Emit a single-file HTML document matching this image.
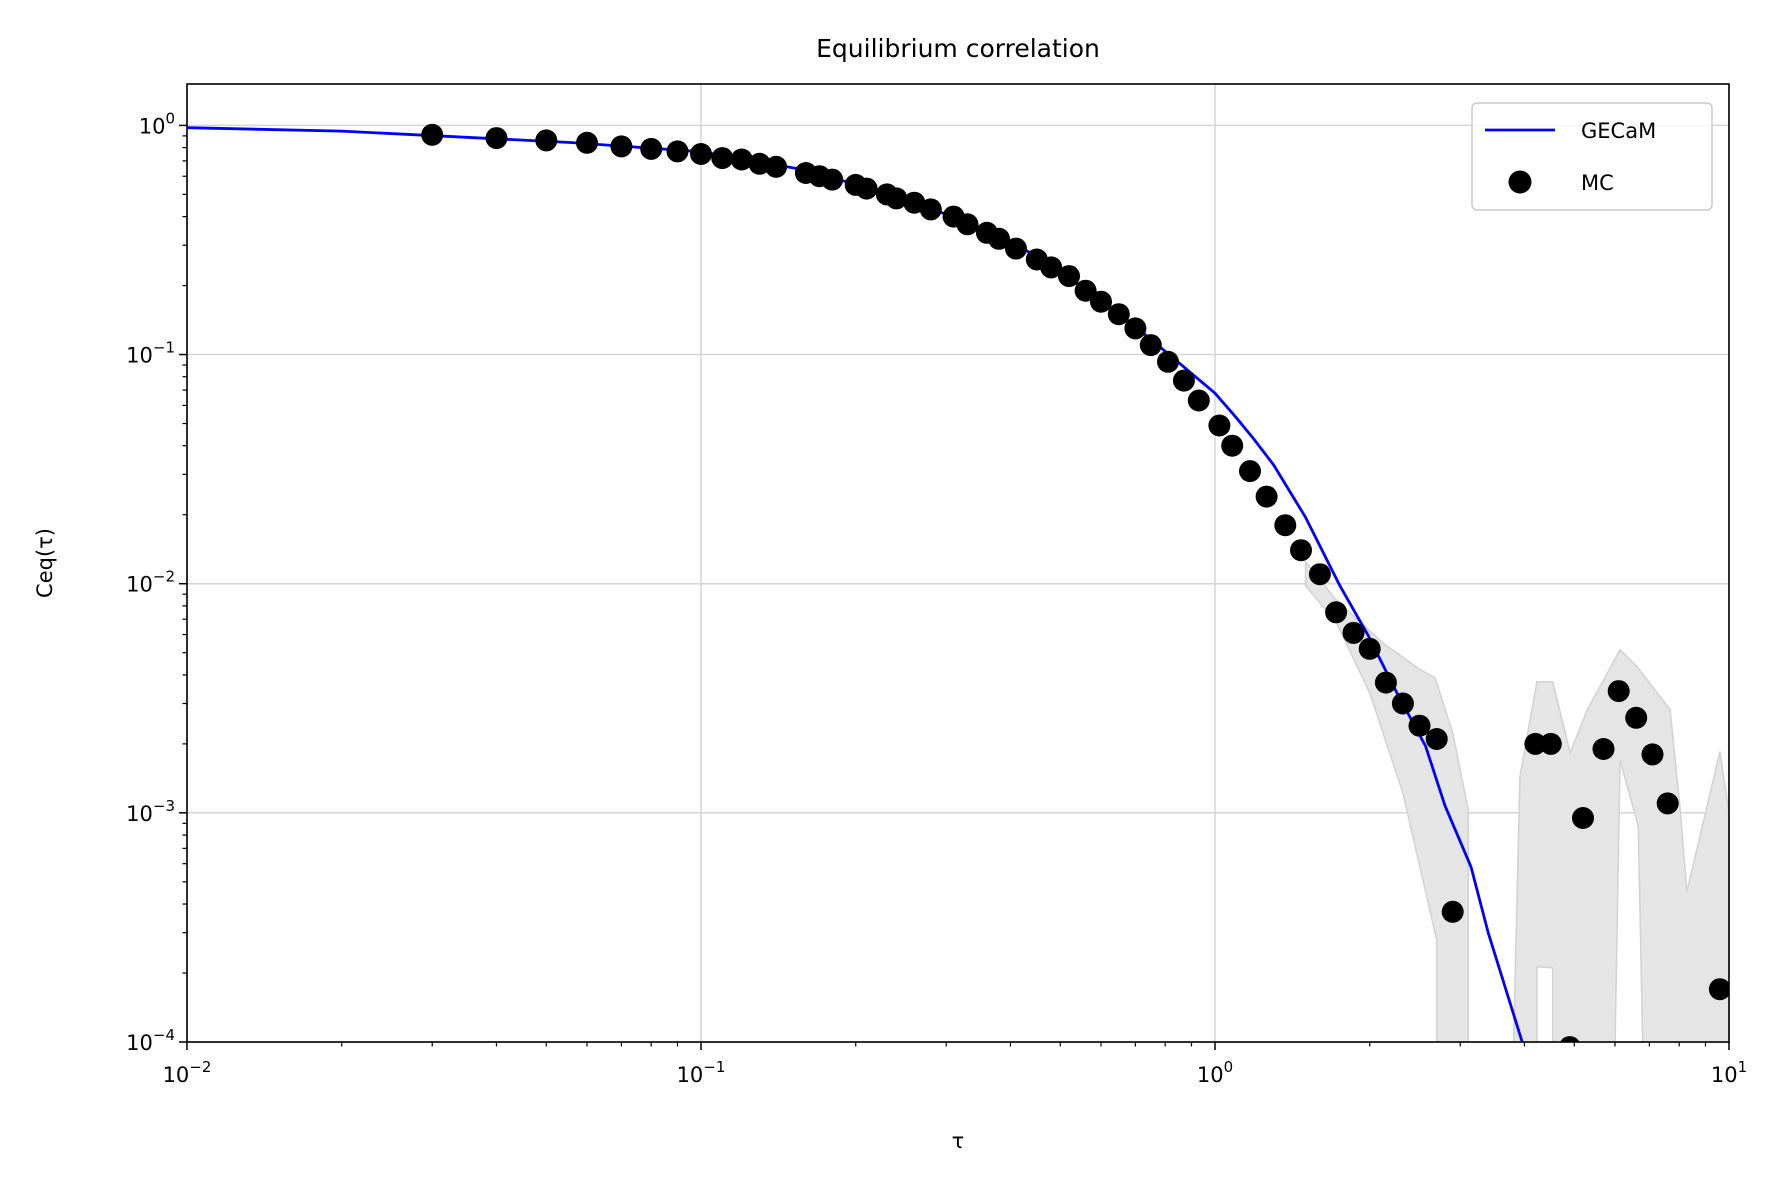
<!DOCTYPE html>
<html><head><meta charset="utf-8"><style>
html,body{margin:0;padding:0;background:#fff;overflow:hidden;width:1788px;height:1187px;}
svg{display:block;font-family:"DejaVu Sans","Liberation Sans",sans-serif;}
</style></head><body>
<svg id="chart" width="1788" height="1187" viewBox="0 0 1788 1187">
<defs><clipPath id="clip"><rect x="187" y="84" width="1542" height="958"/></clipPath></defs>
<rect width="1788" height="1187" fill="#fff"/>
<text x="958" y="57" font-size="25" text-anchor="middle" fill="#000">Equilibrium correlation</text>
<g id="grid"></g>
<g id="band" clip-path="url(#clip)"></g>
<g id="line" clip-path="url(#clip)"></g>
<g id="pts" clip-path="url(#clip)"></g>
<g id="axes"></g>
<text x="958" y="1148" font-size="21" text-anchor="middle">τ</text>
<text x="0" y="0" font-size="21" text-anchor="middle" transform="translate(52,563) rotate(-90)">Ceq(τ)</text>
<g>
<rect x="1472" y="103" width="240" height="107" rx="5" fill="#fff" fill-opacity="0.8" stroke="#ccc" stroke-width="1.5"/>
<line x1="1485" y1="130" x2="1555" y2="130" stroke="#0000ff" stroke-width="2.8"/>
<text x="1581" y="138" font-size="21">GECaM</text>
<circle cx="1520" cy="182" r="11.5" fill="#000"/>
<text x="1581" y="190" font-size="21">MC</text>
</g>
</svg>
<script>
const mcTau=[0.03,0.04,0.05,0.06,0.07,0.08,0.09,0.10,0.11,0.12,0.13,0.14,0.16,0.17,0.18,0.20,0.21,0.23,0.24,0.26,0.28,0.31,0.33,0.36,0.38,0.41,0.45,0.48,0.52,0.56,0.60,0.65,0.70,0.75,0.81,0.87,0.93,1.02,1.08,1.17,1.26,1.37,1.47,1.60,1.72,1.86,2.0,2.15,2.32,2.5,2.7,2.9,4.2,4.5,4.9,5.2,5.7,6.1,6.6,7.1,7.6,9.6];
const mcC=[0.91,0.88,0.86,0.84,0.81,0.79,0.77,0.75,0.72,0.71,0.68,0.66,0.62,0.60,0.58,0.55,0.53,0.50,0.48,0.46,0.43,0.40,0.37,0.34,0.32,0.29,0.26,0.24,0.22,0.19,0.17,0.15,0.13,0.11,0.093,0.077,0.063,0.049,0.040,0.031,0.024,0.018,0.014,0.011,0.0075,0.0061,0.0052,0.0037,0.0030,0.0024,0.0021,0.00037,0.0020,0.0020,0.000095,0.00095,0.0019,0.0034,0.0026,0.0018,0.0011,0.00017];
const gecamTau=[0.01,0.020,0.0334,0.0557,0.1,0.1545,0.258,0.430,0.598,0.716,0.834,1.0,1.1,1.19,1.3,1.5,1.75,1.99,2.25,2.57,2.8,3.15,3.4,3.96,4.2];
const gecamC=[0.977,0.944,0.892,0.842,0.768,0.647,0.475,0.284,0.175,0.127,0.0955,0.0678,0.053,0.0428,0.033,0.0195,0.0098,0.0059,0.0034,0.00195,0.00108,0.00058,0.0003,0.0001,0.00006];
const bandUpTau=[1.5,1.72,2.12,2.51,2.68,2.90,3.11,3.11,3.63,3.92,4.23,4.54,4.91,5.30,6.14,6.62,7.68,8.03,8.28,9.60,10];
const bandUpC=[0.0125,0.0085,0.00552,0.00421,0.00388,0.00223,0.00103,1e-6,1e-6,0.00144,0.00373,0.00373,0.00183,0.00282,0.00515,0.00435,0.00282,0.00106,0.000453,0.00185,0.001];
const bandLoTau=[1.5,1.72,2.0,2.32,2.70,2.70,4.23,4.23,4.54,4.54,5.79,6.14,6.66,7.08,10];
const bandLoC=[0.0098,0.0068,0.00334,0.00122,0.000279,1e-6,1e-6,0.000213,0.000211,1e-6,1e-6,0.0017,0.00087,1e-6,1e-6];
const xExp=[-2,-1,0,1];
const yExp=[0,-1,-2,-3,-4];

const X0=187,X1=1729,Y0=84,Y1=1042;
const xs=t=>X0+(Math.log10(t)+2)/3*(X1-X0);
const yDec=(Y1-125.4)/4;
const ys=c=>125.4-Math.log10(c)*yDec;
const NS='http://www.w3.org/2000/svg';
function mk(tag,attrs,parent){const e=document.createElementNS(NS,tag);for(const k in attrs)e.setAttribute(k,attrs[k]);parent.appendChild(e);return e;}
const grid=document.getElementById('grid'),axes=document.getElementById('axes');
xExp.forEach(e=>{const x=xs(Math.pow(10,e));
 const g=mk('line',{x1:x,x2:x,y1:Y0,y2:Y1,stroke:'#d6d6d6','stroke-width':1.5},grid);
 
 
 const t=mk('line',{x1:x,x2:x,y1:Y1,y2:Y1+8,stroke:'#000','stroke-width':1.5},axes);
 
 
 const l=mk('text',{x:x,y:Y1+40,'font-size':21,'text-anchor':'middle'},axes);
 
 
 l.innerHTML='10<tspan dy="-10" font-size="15">'+(e<0?'−'+(-e):e)+'</tspan>';
 if(e<1)for(let m=2;m<10;m++){const xm=xs(m*Math.pow(10,e));
  const mt=mk('line',{x1:xm,x2:xm,y1:Y1,y2:Y1+4.5,stroke:'#000','stroke-width':1.2},axes);
  
  }
});
yExp.forEach(e=>{const y=ys(Math.pow(10,e));
 const g=mk('line',{x1:X0,x2:X1,y1:y,y2:y,stroke:'#d6d6d6','stroke-width':1.5},grid);
 
 
 const t=mk('line',{x1:X0-8,x2:X0,y1:y,y2:y,stroke:'#000','stroke-width':1.5},axes);
 
 
 const l=mk('text',{x:X0-12,y:y+8,'font-size':21,'text-anchor':'end'},axes);
 
 
 l.innerHTML='10<tspan dy="-10" font-size="15">'+(e<0?'−'+(-e):e)+'</tspan>';
 for(let m=2;m<10;m++){const ym=ys(m*Math.pow(10,e));if(ym<Y0)continue;
  const mt=mk('line',{x1:X0-4.5,x2:X0,y1:ym,y2:ym,stroke:'#000','stroke-width':1.2},axes);
  
  }
});
const fr=mk('rect',{x:X0,y:Y0,width:X1-X0,height:Y1-Y0,fill:'none',stroke:'#000','stroke-width':1.6},axes);


let bp='';
bandUpTau.forEach((t,i)=>{bp+=(i?'L':'M')+xs(t).toFixed(1)+','+ys(bandUpC[i]).toFixed(1);});
for(let i=bandLoTau.length-1;i>=0;i--)bp+='L'+xs(bandLoTau[i]).toFixed(1)+','+ys(bandLoC[i]).toFixed(1);
bp+='Z';
const band=mk('path',{d:bp,fill:'#e5e5e5',stroke:'#d2d2d2','stroke-width':1.5},document.getElementById('band'));


let lp='';gecamTau.forEach((t,i)=>{lp+=(i?'L':'M')+xs(t).toFixed(1)+','+ys(gecamC[i]).toFixed(1);});
const line=mk('path',{d:lp,fill:'none',stroke:'#0000ff','stroke-width':2.8,'stroke-linejoin':'round'},document.getElementById('line'));


const pg=document.getElementById('pts');
mcTau.forEach((t,i)=>{const c=mk('circle',{cx:xs(t).toFixed(1),cy:ys(mcC[i]).toFixed(1),r:11,fill:'#000'},pg);
 
 });
</script>
</body></html>
